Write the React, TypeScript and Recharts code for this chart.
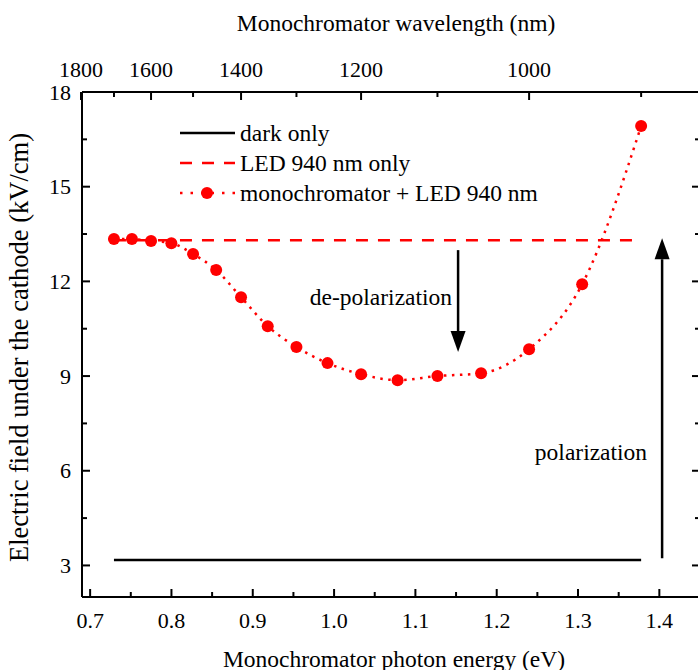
import { LineChart, Line, XAxis, YAxis, Legend, ReferenceLine } from "recharts";

const FONT = '"Liberation Serif", "Times New Roman", serif';
const RED = "#ff0000";
const HC = 1239.84; // eV*nm

// monochromator + LED 940 nm (photon energy in eV, field in kV/cm)
const photonEnergy = [0.7293, 0.7514, 0.7749, 0.7999, 0.8266, 0.855, 0.8856, 0.9184, 0.9537, 0.9919, 1.0332, 1.0781, 1.1271, 1.1808, 1.2398, 1.3051, 1.3776];
const fieldMono = [13.34, 13.34, 13.28, 13.21, 12.87, 12.36, 11.5, 10.58, 9.92, 9.41, 9.06, 8.87, 9.0, 9.09, 9.85, 11.91, 16.92];
const ledLevel = 13.3;
const darkLevel = 3.17;

const energyTicks = [0.7, 0.75, 0.8, 0.85, 0.9, 0.95, 1.0, 1.05, 1.1, 1.15, 1.2, 1.25, 1.3, 1.35, 1.4];
const energyLabels = [0.7, 0.8, 0.9, 1.0, 1.1, 1.2, 1.3, 1.4];
const wavelengthTicks = [1800, 1700, 1600, 1500, 1400, 1300, 1200, 1100, 1000, 900];
const wavelengthLabels = [1800, 1600, 1400, 1200, 1000];
const fieldTicks = [3, 4.5, 6, 7.5, 9, 10.5, 12, 13.5, 15, 16.5, 18];
const fieldLabels = [3, 6, 9, 12, 15, 18];

const data = photonEnergy.map((e, i) => ({ e, mono: fieldMono[i], led: ledLevel, dark: darkLevel }));

const has = (arr: number[], v: number) => arr.some((a) => Math.abs(a - v) < 1e-6);

const BottomTick = (props: any) => {
  const { x, y, payload } = props;
  const major = has(energyLabels, payload.value);
  return (
    <g>
      <line x1={x} x2={x} y1={y} y2={y - (major ? 8 : 5)} stroke="#000" strokeWidth={2} />
      {major && (
        <text x={x} y={y + 31} textAnchor="middle" fontFamily={FONT} fontSize={22} fill="#000">
          {payload.value.toFixed(1)}
        </text>
      )}
    </g>
  );
};

const TopTick = (props: any) => {
  const { x, y, payload } = props;
  const nm = Math.round(HC / payload.value);
  const major = has(wavelengthLabels, nm);
  return (
    <g>
      <line x1={x} x2={x} y1={y} y2={y + (major ? 8 : 5)} stroke="#000" strokeWidth={2} />
      {major && (
        <text x={x} y={y - 15} textAnchor="middle" fontFamily={FONT} fontSize={22} fill="#000">
          {nm}
        </text>
      )}
    </g>
  );
};

const LeftTick = (props: any) => {
  const { x, y, payload } = props;
  const major = has(fieldLabels, payload.value);
  return (
    <g>
      <line x1={x} x2={x + (major ? 8 : 5)} y1={y} y2={y} stroke="#000" strokeWidth={2} />
      {major && (
        <text x={x - 11} y={y + 7.5} textAnchor="end" fontFamily={FONT} fontSize={22} fill="#000">
          {payload.value}
        </text>
      )}
    </g>
  );
};

const RightTick = (props: any) => {
  const { x, y, payload } = props;
  const major = has(fieldLabels, payload.value);
  return <line x1={x} x2={x - (major ? 8 : 5)} y1={y} y2={y} stroke="#000" strokeWidth={2} />;
};

const arrow = (text: string, dx: number, dy: number) => (p: any) => {
  const { x1, y1, x2, y2 } = p;
  const dir = y2 > y1 ? 1 : -1;
  const len = 21;
  const w = 7.5;
  return (
    <g>
      <line x1={x1} y1={y1} x2={x2} y2={y2 - dir * len} stroke="#000" strokeWidth={2.5} />
      <polygon points={`${x2},${y2} ${x2 - w},${y2 - dir * len} ${x2 + w},${y2 - dir * len}`} fill="#000" />
      <text x={x1 + dx} y={y1 + dy} textAnchor="end" fontFamily={FONT} fontSize={23.5} fill="#000">
        {text}
      </text>
    </g>
  );
};

const legendRows = [
  { name: "dark only", color: "#000", dash: undefined as string | undefined, marker: false },
  { name: "LED 940 nm only", color: RED, dash: "12 10", marker: false },
  { name: "monochromator + LED 940 nm", color: RED, dash: "2.5 8", marker: true },
];

const LegendBox = () => (
  <div style={{ fontFamily: FONT, fontSize: 23.5, color: "#000", lineHeight: "30px" }}>
    {legendRows.map((r) => (
      <div key={r.name} style={{ display: "flex", alignItems: "center", height: 30 }}>
        <svg width={70} height={30} style={{ display: "block" }}>
          <line x1={10} x2={65} y1={15} y2={15} stroke={r.color} strokeWidth={2.5} strokeDasharray={r.dash} />
          {r.marker && <circle cx={37} cy={15} r={6} fill={RED} />}
        </svg>
        <span>{r.name}</span>
      </div>
    ))}
  </div>
);

export default function App() {
  return (
    <div style={{ position: "absolute", left: 0, top: 0, width: 698, height: 670, overflow: "hidden", background: "#fff", fontFamily: FONT }}>
      <LineChart width={720} height={670} data={data} margin={{ top: 0, right: 0, bottom: 0, left: 0 }}>
        <XAxis
          dataKey="e"
          type="number"
          domain={[0.69, 1.45]}
          allowDataOverflow
          ticks={energyTicks}
          interval={0}
          tick={BottomTick}
          tickLine={false}
          tickSize={0}
          tickMargin={0}
          height={73}
          axisLine={{ stroke: "#000", strokeWidth: 2 }}
          label={(p: any) => (
            <text x={p.viewBox.x + p.viewBox.width / 2 + 3} y={p.viewBox.y + 70} textAnchor="middle" fontFamily={FONT} fontSize={23.5} fill="#000">
              Monochromator photon energy (eV)
            </text>
          )}
        />
        <XAxis
          xAxisId="top"
          dataKey="e"
          orientation="top"
          type="number"
          domain={[0.69, 1.45]}
          allowDataOverflow
          ticks={wavelengthTicks.map((w) => HC / w)}
          interval={0}
          tick={TopTick}
          tickLine={false}
          tickSize={0}
          tickMargin={0}
          height={92}
          axisLine={{ stroke: "#000", strokeWidth: 2 }}
          label={(p: any) => (
            <text x={p.viewBox.x + p.viewBox.width / 2 + 5} y={31} textAnchor="middle" fontFamily={FONT} fontSize={23.5} fill="#000">
              Monochromator wavelength (nm)
            </text>
          )}
        />
        <YAxis
          type="number"
          domain={[2, 18]}
          allowDataOverflow
          ticks={fieldTicks}
          interval={0}
          tick={LeftTick}
          tickLine={false}
          tickSize={0}
          tickMargin={0}
          width={82}
          axisLine={{ stroke: "#000", strokeWidth: 2 }}
          label={(p: any) => {
            const cx = 28;
            const cy = p.viewBox.y + p.viewBox.height / 2 + 3;
            return (
              <text x={cx} y={cy} transform={`rotate(-90 ${cx} ${cy})`} textAnchor="middle" fontFamily={FONT} fontSize={26.5} fill="#000">
                Electric field under the cathode (kV/cm)
              </text>
            );
          }}
        />
        <YAxis
          yAxisId="r"
          orientation="right"
          type="number"
          domain={[2, 18]}
          allowDataOverflow
          ticks={fieldTicks}
          interval={0}
          tick={RightTick}
          tickLine={false}
          tickSize={0}
          tickMargin={0}
          width={20}
          axisLine={{ stroke: "#000", strokeWidth: 2 }}
        />
        <Legend
          layout="vertical"
          align="center"
          verticalAlign="middle"
          content={LegendBox}
          wrapperStyle={{ position: "absolute", left: 170, top: 118, width: 420, height: 90 }}
        />
        <Line xAxisId="top" yAxisId="r" dataKey="dark" stroke="#000" strokeWidth={2.5} dot={false} isAnimationActive={false} />
        <Line dataKey="led" stroke={RED} strokeWidth={2.5} strokeDasharray="12 10" dot={false} isAnimationActive={false} />
        <Line
          dataKey="mono"
          type="monotone"
          stroke={RED}
          strokeWidth={2.5}
          strokeDasharray="2.5 5.5"
          dot={{ r: 6, fill: RED, stroke: "none" }}
          isAnimationActive={false}
        />
        <ReferenceLine segment={[{ x: 1.1525, y: 12.99 }, { x: 1.1525, y: 9.76 }]} shape={arrow("de-polarization", -6, 55)} />
        <ReferenceLine segment={[{ x: 1.4034, y: 3.23 }, { x: 1.4034, y: 13.37 }]} shape={arrow("polarization", -15, -98)} />
      </LineChart>
    </div>
  );
}
